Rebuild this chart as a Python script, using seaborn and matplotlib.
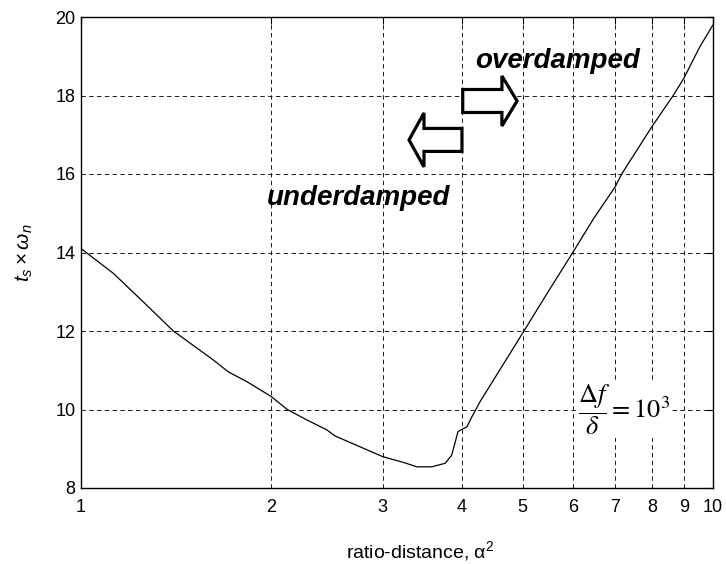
import matplotlib
matplotlib.use("Agg")
import matplotlib.pyplot as plt
import seaborn as sns
import numpy as np
import pandas as pd
from matplotlib.patches import Polygon
from matplotlib.ticker import FixedLocator, FixedFormatter, NullLocator

# ---- data ----
alpha2 = [1.0, 1.125, 1.27, 1.40, 1.62, 1.71, 1.83, 2.0, 2.12, 2.28, 2.45, 2.52,
          2.80, 3.0, 3.24, 3.40, 3.59, 3.77, 3.86, 3.95, 4.08, 4.15, 4.28, 5.0,
          5.46, 6.0, 6.47, 7.0, 7.17, 8.0, 8.65, 9.0, 9.53, 10.0]
ts_wn = [14.1, 13.47, 12.66, 12.0, 11.26, 10.96, 10.71, 10.33, 10.0, 9.73, 9.48, 9.33,
         9.01, 8.80, 8.65, 8.54, 8.54, 8.63, 8.84, 9.44, 9.56, 9.80, 10.2, 11.95,
         12.95, 14.0, 14.86, 15.67, 16.0, 17.2, 18.0, 18.45, 19.24, 19.8]
x_ticks = [1, 2, 3, 4, 5, 6, 7, 8, 9, 10]
x_ticklabels = ["1", "2", "3", "4", "5", "6", "7", "8", "9", "10"]
y_ticks = [8, 10, 12, 14, 16, 18, 20]
y_ticklabels = ["8", "10", "12", "14", "16", "18", "20"]

df = pd.DataFrame({"alpha2": alpha2, "ts_wn": ts_wn})

sns.set_style("white")
plt.rcParams["font.family"] = ["Liberation Sans", "DejaVu Sans"]
plt.rcParams["mathtext.fontset"] = "custom"
plt.rcParams["mathtext.rm"] = "Liberation Sans"
plt.rcParams["mathtext.it"] = "Liberation Sans:italic"
plt.rcParams["mathtext.bf"] = "Liberation Sans:bold"
for k in ("text.color", "axes.labelcolor", "xtick.color", "ytick.color"):
    plt.rcParams[k] = "black"

fig = plt.figure(figsize=(7.26, 5.64), dpi=100)
ax = fig.add_axes([81/726, 1-488/564, 632/726, 471/564])

sns.lineplot(data=df, x="alpha2", y="ts_wn", ax=ax, color="black", lw=0.9,
             sort=False, estimator=None)

ax.set_xscale("log")
ax.set_xlim(1, 10)
ax.set_ylim(8, 20)
ax.xaxis.set_major_locator(FixedLocator(x_ticks))
ax.xaxis.set_major_formatter(FixedFormatter(x_ticklabels))
ax.xaxis.set_minor_locator(NullLocator())
ax.set_yticks(y_ticks)
ax.set_yticklabels(y_ticklabels)

ax.tick_params(axis="both", which="major", direction="in", length=5, width=0.8,
               labelsize=13, colors="black", top=True, right=True)
ax.tick_params(axis="x", pad=8)
ax.tick_params(axis="y", pad=4)

for s in ax.spines.values():
    s.set_visible(True)
    s.set_color("black")
    s.set_linewidth(1.0)

ax.grid(True, which="major", color="0.1", lw=0.7, linestyle=(0, (4.5, 3.5)))

ax.set_xlabel("ratio-distance, α$^2$", fontsize=14, color="black")
ax.xaxis.set_label_coords(0.536, -0.134)
ax.xaxis.label.set_va("center")
ax.set_ylabel(r"$t_s \times \omega_n$", fontsize=15, color="black")
ax.yaxis.set_label_coords(-0.089, 0.5)
ax.yaxis.label.set_va("center")

# arrows (axes fraction)
cy, sh, hh = 0.8217, 0.0244, 0.0531
right_arrow = [(0.604, cy-sh), (0.666, cy-sh), (0.666, cy-hh), (0.690, cy),
               (0.666, cy+hh), (0.666, cy+sh), (0.604, cy+sh)]
cy2, hh2 = 0.739, 0.0573
left_arrow = [(0.6028, cy2-sh), (0.5427, cy2-sh), (0.5427, cy2-hh2), (0.519, cy2),
              (0.5427, cy2+hh2), (0.5427, cy2+sh), (0.6028, cy2+sh)]
for verts in (right_arrow, left_arrow):
    ax.add_patch(Polygon(verts, closed=True, facecolor="white", edgecolor="black",
                         lw=2.3, transform=ax.transAxes, zorder=5, joinstyle="miter"))

ax.text(0.623, 0.892, "overdamped", transform=ax.transAxes, fontsize=20,
        fontweight="bold", fontstyle="italic", ha="left", va="baseline", zorder=6,
        color="black")
ax.text(0.294, 0.601, "underdamped", transform=ax.transAxes, fontsize=20,
        fontweight="bold", fontstyle="italic", ha="left", va="baseline", zorder=6,
        color="black")

ax.text(0.859, 0.166, r"$\dfrac{\Delta f}{\delta} = 10^3$", transform=ax.transAxes,
        fontsize=19, ha="center", va="center", math_fontfamily="stix", color="black",
        bbox=dict(facecolor="white", edgecolor="none", pad=1), zorder=6)

fig.savefig("out.png", dpi=100, facecolor="white")
